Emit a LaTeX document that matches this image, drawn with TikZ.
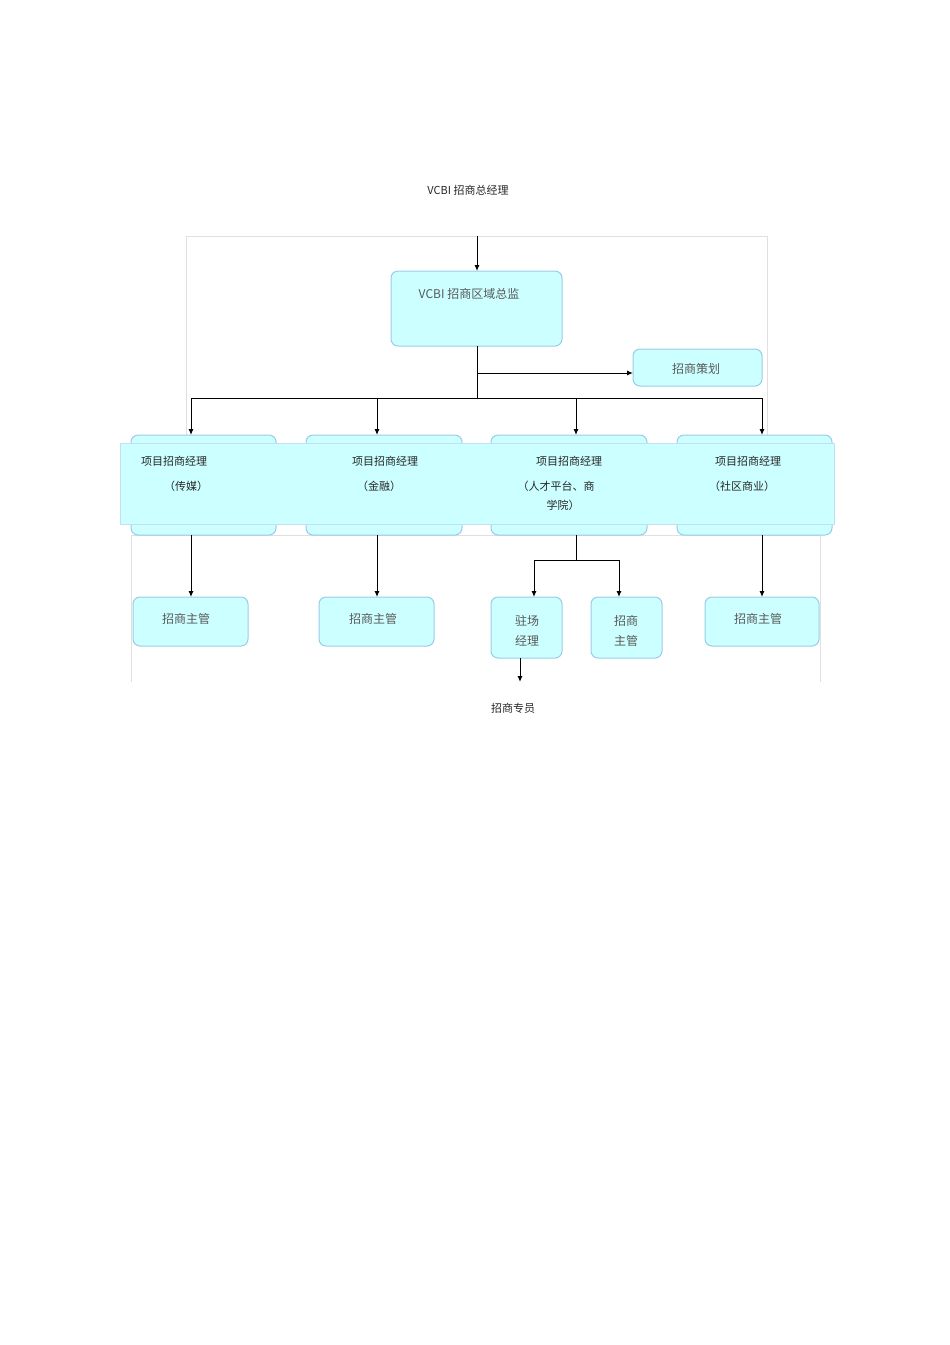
\documentclass[tikz,border=0pt]{standalone}
\usepackage{fontspec}
\setmainfont{Liberation Sans}
\newfontfamily\cjk{Noto Sans CJK SC}
\usetikzlibrary{arrows.meta}
\definecolor{boxfill}{HTML}{CCFFFF}
\definecolor{boxline}{HTML}{99CCE6}
\begin{document}
\begin{tikzpicture}[x=1pt,y=-1pt,
  box/.style={draw=boxline,fill=boxfill,rounded corners=7pt,line width=1pt},
  txt/.style={font=\cjk\fontsize{11}{13}\selectfont,text=black!85,align=center},
  btxt/.style={font=\cjk\fontsize{12}{20}\selectfont,text=black!65,align=center},
  frame/.style={draw=black!12,line width=0.5pt},
  arr/.style={-{Latex[length=6pt,width=5pt]},line width=1pt},
  ln/.style={line width=1pt}]
\useasboundingbox (0,0) rectangle (950,1345);
\node[txt] (top) at (468,190) {VCBI 招商总经理};
\draw[frame] (186,435) -- (186,236) -- (767,236) -- (767,435);
\draw[frame] (131,682) -- (131,535) -- (820,535) -- (820,682);
\coordinate (s0) at (477,236);
\draw[box] (391,271) rectangle (562,346);
\node[btxt,font=\cjk\fontsize{12}{14}\selectfont] (dir) at (469,294) {VCBI 招商区域总监};
\coordinate (dirT) at (477,271);
\coordinate (dirB) at (477,346);
\draw[arr] (s0) -- (dirT);
\draw[box] (633,349) rectangle (762,386);
\node[btxt] (plan) at (696,369) {招商策划};
\coordinate (j1) at (477,373);
\coordinate (j2) at (477,398);
\draw[ln] (dirB) -- (j2);
\draw[arr] (j1) -- (633,373);
% partial rounded boxes
\foreach \a/\b in {131/276,306/462,491/647,677/832}{
  \draw[box] (\a,435) rectangle (\b,535);
}
\fill[boxfill] (120,443) rectangle (834,524);
\draw[boxline!60,line width=0.5pt] (120,443) rectangle (834,524);
\draw[ln] (191,398) -- (762,398);
\foreach \x in {191,377,576,762}{\draw[arr] (\x,398) -- (\x,435);}
\node[txt] (m1) at (174,461) {项目招商经理};
\node[txt] (m2) at (385,461) {项目招商经理};
\node[txt] (m3) at (569,461) {项目招商经理};
\node[txt] (m4) at (748,461) {项目招商经理};
\node[txt] (m1b) at (186,486) {（传媒）};
\node[txt] (m2b) at (379,486) {（金融）};
\node[txt] (m3b) at (556,486) {（人才平台、商};
\node[txt] (m3c) at (563,505) {学院）};
\node[txt] (m4b) at (742,486) {（社区商业）};
% bottom boxes
\draw[box] (133,597) rectangle (248,646); \node[btxt] (a1) at (186,619) {招商主管};
\draw[box] (319,597) rectangle (434,646); \node[btxt] (a2) at (373,619) {招商主管};
\draw[box] (491,597) rectangle (562,658); \node[btxt] (a3) at (527,631) {驻场\\经理};
\draw[box] (591,597) rectangle (662,658); \node[btxt] (a4) at (626,631) {招商\\主管};
\draw[box] (705,597) rectangle (819,646); \node[btxt] (a5) at (758,619) {招商主管};
\draw[arr] (191,535) -- (191,597);
\draw[arr] (377,535) -- (377,597);
\draw[arr] (762,535) -- (762,597);
\draw[ln] (576,535) -- (576,560);
\draw[arr] (576,560) -- (534,560) -- (534,597);
\draw[arr] (576,560) -- (619,560) -- (619,597);
\coordinate (e) at (520,682);
\draw[arr] (520,658) -- (e);
\node[txt] (sp) at (513,708) {招商专员};
\end{tikzpicture}
\end{document}
